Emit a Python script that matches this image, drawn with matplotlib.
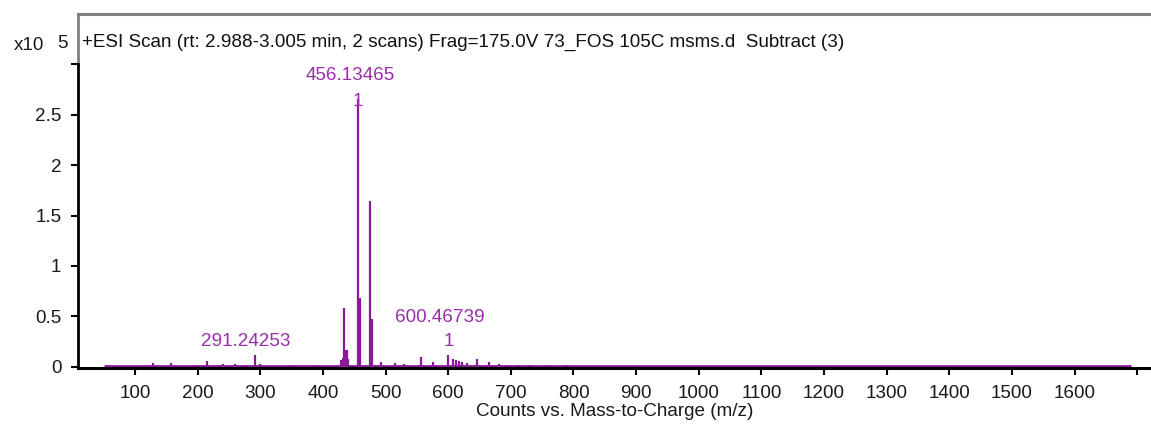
import matplotlib
matplotlib.use("Agg")
import matplotlib.pyplot as plt

plt.rcParams['font.family'] = ['Liberation Sans', 'DejaVu Sans']

# ---- data (intensity in units of 1e5 counts) ----
peak_mz = [128.7, 158.0, 198.0, 215.0, 240.0, 259.0, 278.0, 291.24253, 299.0,
           350.0, 370.0, 390.0, 429.0, 432.0, 434.4, 436.5, 438.5, 440.5,
           456.13465, 458.3, 459.8, 475.8, 477.8, 493.0, 515.0, 530.0,
           557.0, 576.0, 600.46739, 607.0, 612.0, 617.0, 622.0, 630.0,
           646.0, 665.0, 681.0, 697.0, 713.0, 729.0, 760.0, 790.0]
peak_int = [0.04, 0.04, 0.02, 0.06, 0.03, 0.03, 0.02, 0.12, 0.03,
            0.02, 0.02, 0.02, 0.07, 0.09, 0.58, 0.17, 0.17, 0.08,
            2.66, 0.37, 0.68, 1.64, 0.47, 0.05, 0.04, 0.03,
            0.10, 0.05, 0.12, 0.08, 0.07, 0.06, 0.05, 0.04,
            0.08, 0.05, 0.03, 0.02, 0.02, 0.02, 0.02, 0.02]
scan_range = [50, 1690]
baseline_level = 0.01

labels_mz = [291.24253, 456.13465, 600.46739]
labels_int = [0.12, 2.66, 0.12]
labels_txt = ["291.24253", "456.13465", "600.46739"]
labels_charge = ["", "1", "1"]

xticks = list(range(100, 1800, 100))
xtick_labels = [str(v) for v in range(100, 1700, 100)] + [""]
yticks = [0, 0.5, 1, 1.5, 2, 2.5, 3]
ytick_labels = ["0", "0.5", "1", "1.5", "2", "2.5", ""]

title = "+ESI Scan (rt: 2.988-3.005 min, 2 scans) Frag=175.0V 73_FOS 105C msms.d  Subtract (3)"
xlabel = "Counts vs. Mass-to-Charge (m/z)"

line_c = "#8a1a9a"
text_c = "#9a2eaa"
fs = 13.6

W, H = 1151, 426
fig = plt.figure(figsize=(W / 100, H / 100), dpi=100)
ax = fig.add_axes([78 / W, 1 - 368 / H, 1 - 78 / W, (368 - 14) / H])

ax.set_xlim(9, 1722)
ax.set_ylim(-0.012, 3.5)

# baseline and peaks
ax.hlines(baseline_level, scan_range[0], scan_range[1], color=line_c, lw=2.0, zorder=2)
ax.vlines(peak_mz, 0, peak_int, color=line_c, lw=1.6, zorder=3)

# peak labels
label_offsets = [(-9, 13), (-8, 23), (-9, 37)]
charge_offsets = [(0, 0), (0, -3), (0, 13)]
for mz, it, txt, ch, lo, co in zip(labels_mz, labels_int, labels_txt, labels_charge,
                                   label_offsets, charge_offsets):
    ax.annotate(txt, xy=(mz, it), xytext=lo, textcoords='offset pixels',
                ha='center', va='center', color=text_c, fontsize=fs)
    if ch:
        ax.annotate(ch, xy=(mz, it), xytext=co, textcoords='offset pixels',
                    ha='center', va='center', color=text_c, fontsize=fs)

# spines
ax.spines['right'].set_visible(False)
ax.spines['top'].set_color('#808080')
ax.spines['top'].set_linewidth(2.2)
ax.spines['bottom'].set_color('black')
ax.spines['bottom'].set_linewidth(2.2)
ax.spines['left'].set_color('black')
ax.spines['left'].set_linewidth(2.0)
ax.spines['left'].set_bounds(-0.012, 3.0)
ax.axvline(9, ymin=(3.0 + 0.012) / 3.512, ymax=1, color='#808080', lw=2.0, clip_on=False)

ax.set_xticks(xticks)
ax.set_xticklabels(xtick_labels)
ax.set_yticks(yticks)
ax.set_yticklabels(ytick_labels)
ax.tick_params(axis='both', direction='out', length=5, width=1.5, colors='black',
               labelsize=fs, labelcolor='#1a1a1a')
ax.tick_params(axis='x', pad=7)
ax.tick_params(axis='y', pad=7)

ax.set_xlabel(xlabel, fontsize=fs, color='#1a1a1a', labelpad=1)

ax.text(82 / W, 1 - 42 / H, title, transform=fig.transFigure, ha='left', va='center',
        fontsize=fs, color='#111111')
fig.text(29 / W, 1 - 46 / H, "x10", ha='center', va='center', fontsize=fs, color='#1a1a1a')
fig.text(62 / W, 1 - 43 / H, "5", ha='center', va='center', fontsize=fs, color='#1a1a1a')

fig.savefig("out.png", dpi=100)
